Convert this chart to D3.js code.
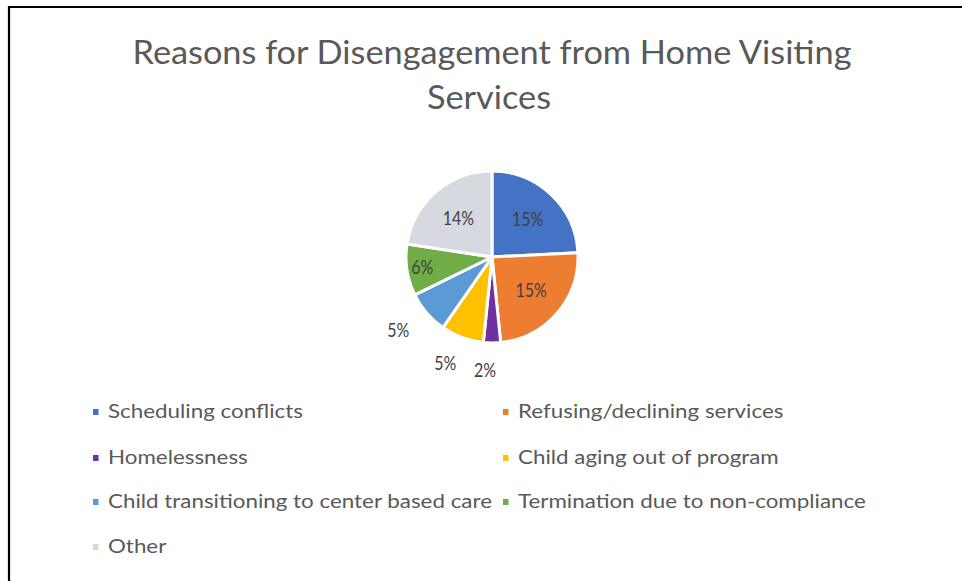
<!DOCTYPE html>
<html>
<head>
<meta charset="utf-8">
<script src="https://cdn.jsdelivr.net/npm/d3@7/dist/d3.min.js"></script>
<style>
  html, body { margin: 0; padding: 0; background: #ffffff; }
  svg { display: block; }
  text { font-family: Lato, "Open Sans", "Liberation Sans", sans-serif; }
</style>
</head>
<body>
<svg id="chart" width="962" height="581"></svg>
<script>
// Reasons for disengagement, shown as the percentages printed on each slice
const categories = [
  "Scheduling conflicts",
  "Refusing/declining services",
  "Homelessness",
  "Child aging out of program",
  "Child transitioning to center based care",
  "Termination due to non-compliance",
  "Other"
];
const values = [15, 15, 2, 5, 5, 6, 14];
const colors = ["#4472C4", "#ED7D31", "#7030A0", "#FFC000", "#5B9BD5", "#70AD47", "#D6DAE0"];
const titleLines = ["Reasons for Disengagement from Home Visiting", "Services"];

const svg = d3.select("#chart");
const textColor = "#595959";

// Condense a text element horizontally by a factor, keeping its anchor point
function condense(sel, factor) {
  sel.each(function () {
    const len = this.getComputedTextLength();
    d3.select(this)
      .attr("textLength", len * factor)
      .attr("lengthAdjust", "spacingAndGlyphs");
  });
}

// Frame (only the top and left edges fall inside the view)
svg.append("path")
  .attr("d", "M9,581 L9,7 L962,7")
  .attr("fill", "none")
  .attr("stroke", "#000")
  .attr("stroke-width", 2.2);

// Title: tall, narrow type; first line spans 719px
const titleSize = 33;
const title = svg.append("g");
const t1 = title.append("text")
  .attr("x", 492).attr("y", 64)
  .attr("text-anchor", "middle")
  .attr("fill", textColor)
  .attr("font-size", titleSize)
  .text(titleLines[0]);
const titleFactor = 719 / t1.node().getComputedTextLength();
const t2 = title.append("text")
  .attr("x", 489).attr("y", 109)
  .attr("text-anchor", "middle")
  .attr("fill", textColor)
  .attr("font-size", titleSize)
  .text(titleLines[1]);
condense(t1, titleFactor);
condense(t2, titleFactor);

// Pie
const cx = 492, cy = 257, R = 86;
const data = categories.map((c, i) => ({ name: c, value: values[i], color: colors[i] }));
const pie = d3.pie().sort(null).value(d => d.value);
const arcs = pie(data);
const arc = d3.arc().innerRadius(0).outerRadius(R);

const g = svg.append("g").attr("transform", `translate(${cx},${cy})`);
g.selectAll("path.slice")
  .data(arcs)
  .join("path")
  .attr("class", "slice")
  .attr("d", arc)
  .attr("fill", d => d.data.color)
  .attr("stroke", "#ffffff")
  .attr("stroke-width", 3)
  .attr("stroke-linejoin", "round");

// Data labels: inside for wide slices, outside for narrow ones
const labelSize = 18.5;
const labels = g.selectAll("text.lbl")
  .data(arcs)
  .join("text")
  .attr("class", "lbl")
  .each(function (d) {
    const span = (d.endAngle - d.startAngle) * 180 / Math.PI;
    let r;
    if (span >= 60) r = R * 0.6;
    else if (span >= 33) r = R * 0.82;
    else r = R * 1.33;
    const a = (d.startAngle + d.endAngle) / 2;
    let x = Math.sin(a) * r, y = -Math.cos(a) * r;
    if (span < 33) { x -= 7; y -= 1; }
    d3.select(this)
      .attr("x", x)
      .attr("y", y)
      .attr("dy", "0.36em");
  })
  .attr("text-anchor", "middle")
  .attr("font-size", labelSize)
  .attr("fill", "#404040")
  .text(d => d.data.value + "%");
condense(labels, 0.86);

// Legend: two columns, four rows
const legend = svg.append("g");
const colX = [93, 503];
const rowY = [418, 464, 508, 553];
const items = legend.selectAll("g.item")
  .data(data)
  .join("g")
  .attr("class", "item")
  .attr("transform", (d, i) => `translate(${colX[i % 2]},${rowY[Math.floor(i / 2)]})`);
items.append("rect")
  .attr("x", 0).attr("y", -9)
  .attr("width", 5.5).attr("height", 6)
  .attr("fill", d => d.color);
const legendTexts = items.append("text")
  .attr("x", 15).attr("y", 0)
  .attr("fill", textColor)
  .attr("font-size", 18.5)
  .text(d => d.name);
// Condense the legend type so the longest entry spans 384px
const longest = legendTexts.filter((d, i) => i === 4).node().getComputedTextLength();
condense(legendTexts, 384 / longest);
</script>
</body>
</html>
